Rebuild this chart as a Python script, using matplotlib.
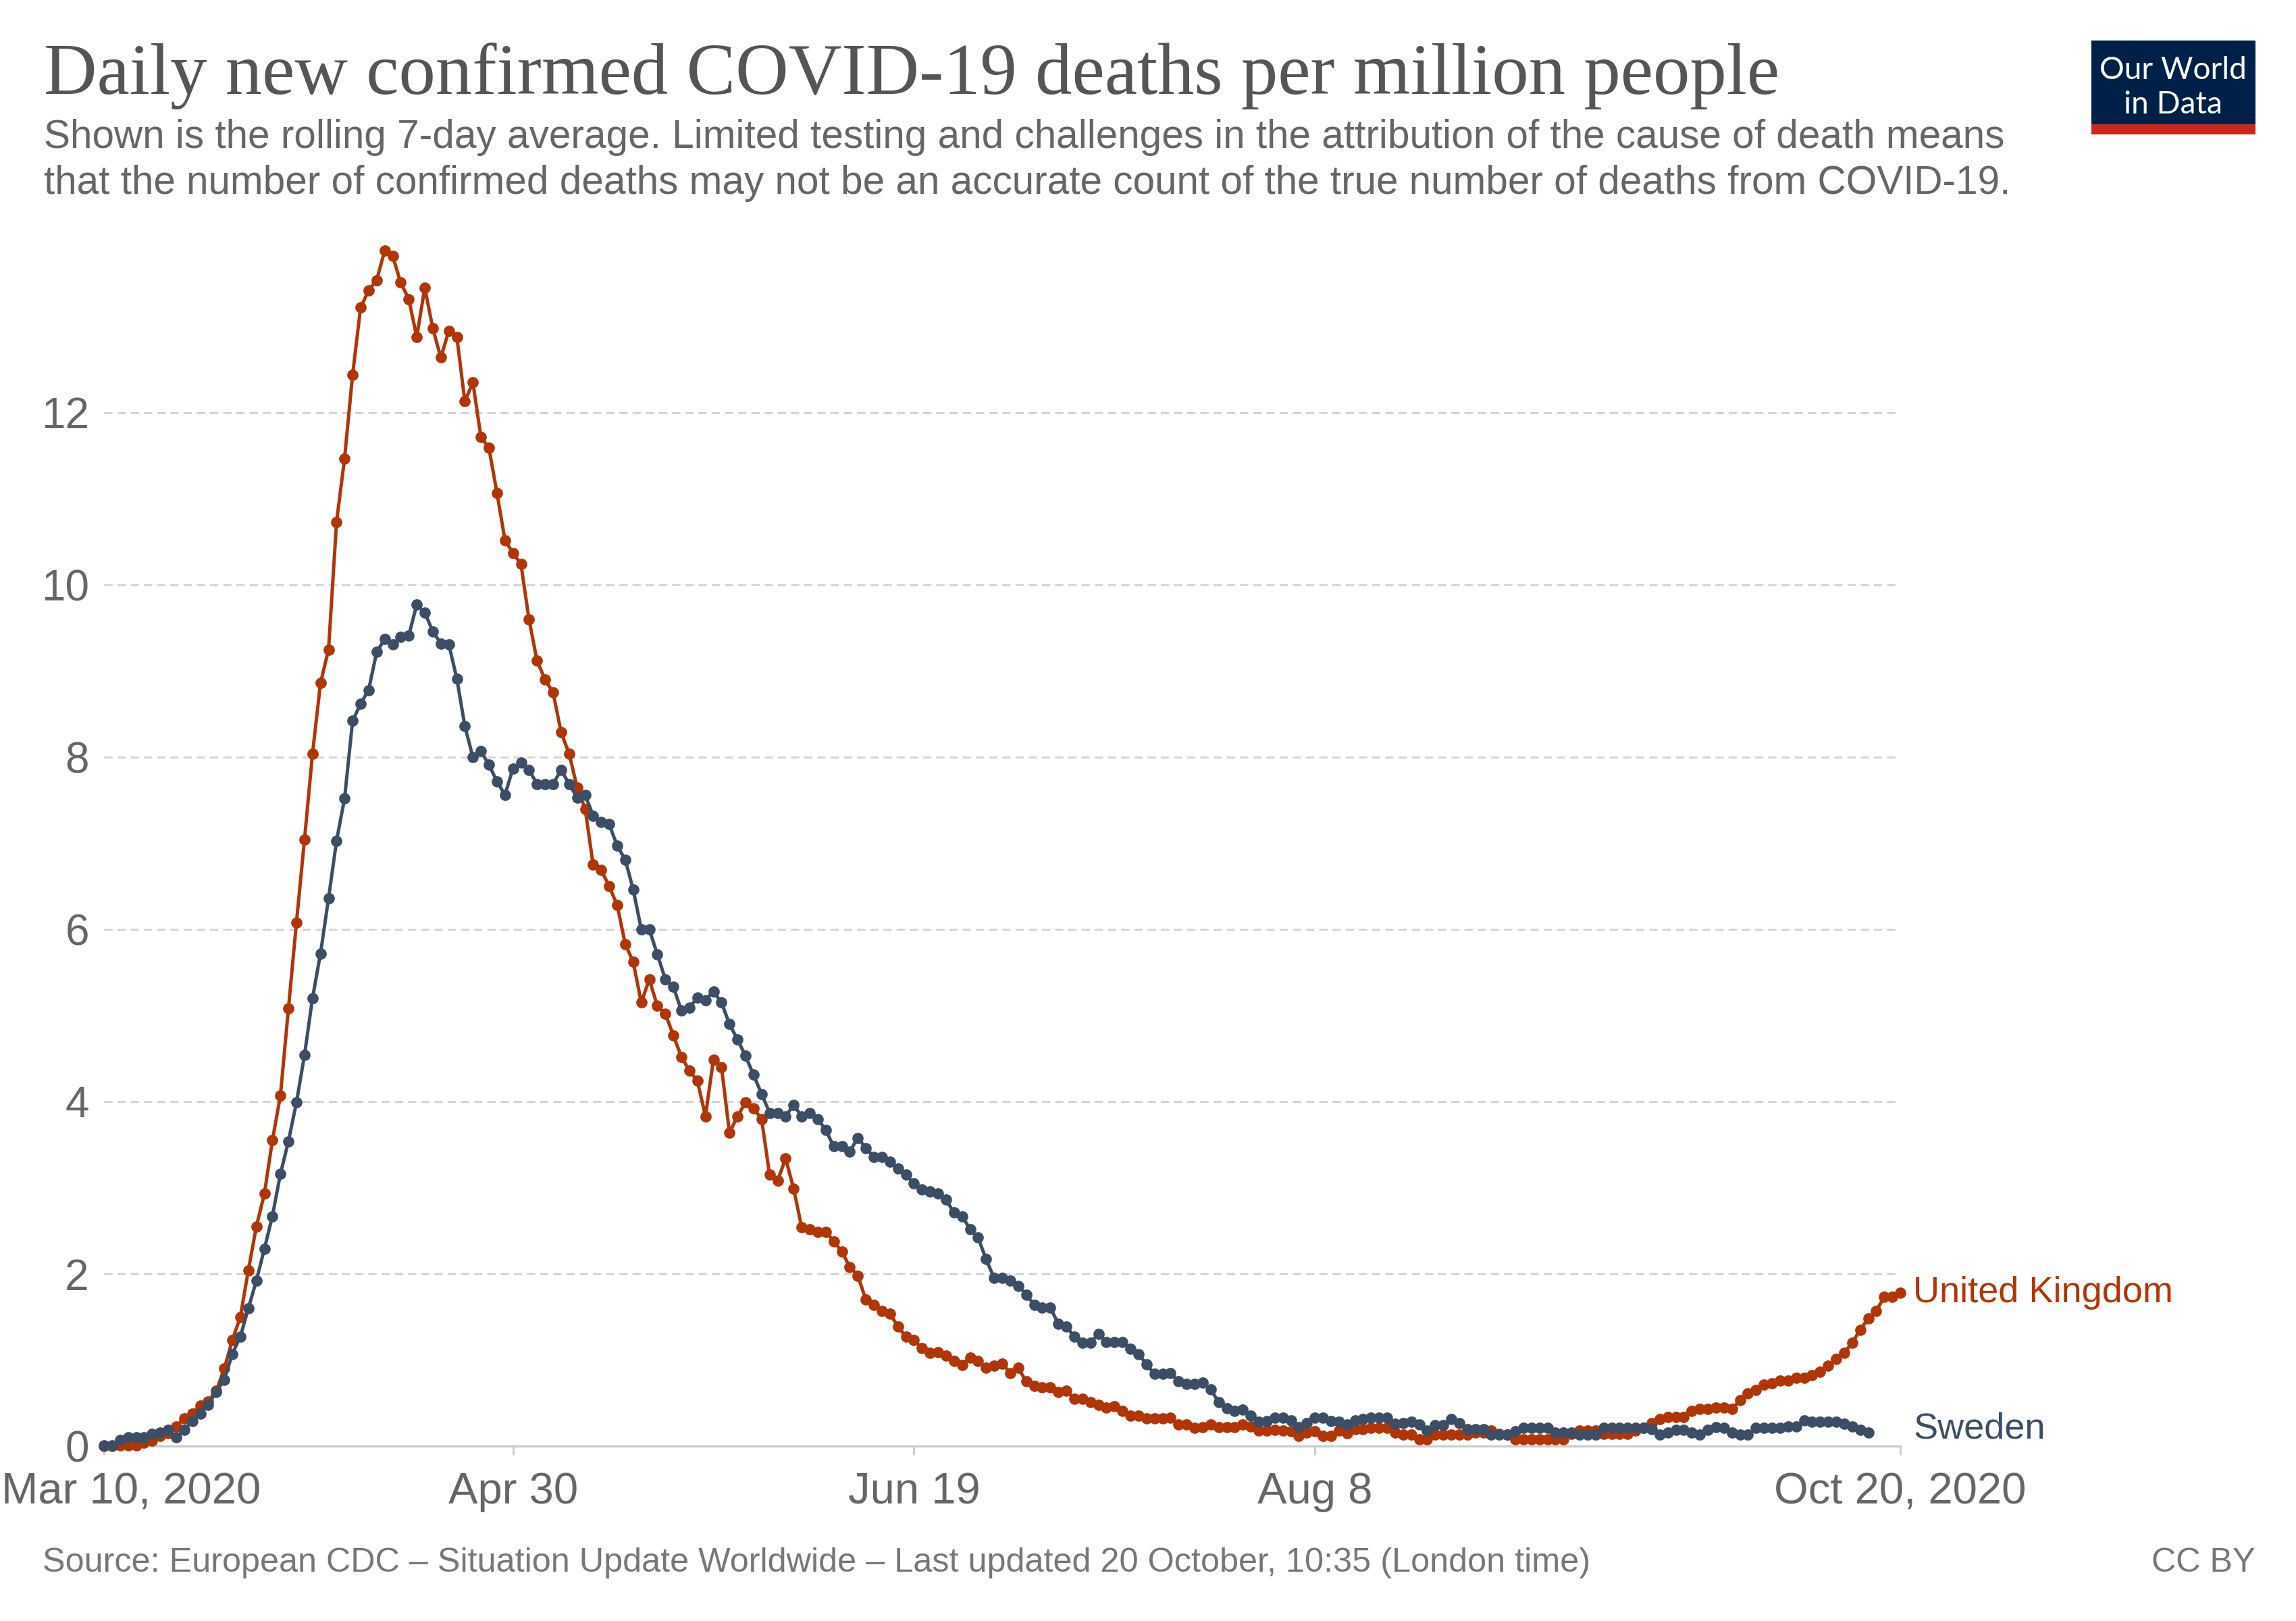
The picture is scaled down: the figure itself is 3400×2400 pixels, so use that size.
import matplotlib
matplotlib.use("Agg")
import matplotlib.pyplot as plt
import matplotlib.dates as mdates
from matplotlib.patches import Rectangle
from matplotlib.transforms import ScaledTranslation
import pandas as pd

# Tägliche bestätigte COVID-19-Tote pro Million (7-Tage-Mittel), ab 10. März 2020
start = "2020-03-10"

uk = [0.0, 0.0, 0.01, 0.01, 0.01, 0.04, 0.06, 0.12, 0.15, 0.23,
      0.32, 0.38, 0.47, 0.52, 0.64, 0.9, 1.23, 1.5, 2.04, 2.55,
      2.93, 3.55, 4.07, 5.08, 6.08, 7.04, 8.04, 8.86, 9.25, 10.73,
      11.47, 12.44, 13.22, 13.42, 13.54, 13.88, 13.82, 13.51, 13.32, 12.88,
      13.45, 12.98, 12.64, 12.95, 12.88, 12.13, 12.35, 11.72, 11.59, 11.07,
      10.52, 10.37, 10.24, 9.6, 9.12, 8.9, 8.75, 8.29, 8.04, 7.65,
      7.4, 6.75, 6.69, 6.5, 6.28, 5.83, 5.62, 5.15, 5.42, 5.11,
      5.02, 4.77, 4.52, 4.36, 4.24, 3.83, 4.49, 4.4, 3.64, 3.83,
      3.99, 3.92, 3.8, 3.15, 3.08, 3.34, 2.99, 2.54, 2.52, 2.49,
      2.49, 2.38, 2.26, 2.08, 1.98, 1.7, 1.64, 1.57, 1.54, 1.39,
      1.27, 1.23, 1.14, 1.08, 1.09, 1.05, 0.99, 0.94, 1.03, 0.99,
      0.91, 0.93, 0.96, 0.85, 0.91, 0.75, 0.7, 0.68, 0.68, 0.63,
      0.64, 0.55, 0.55, 0.51, 0.48, 0.45, 0.46, 0.41, 0.35, 0.35,
      0.32, 0.32, 0.32, 0.33, 0.25, 0.25, 0.21, 0.22, 0.25, 0.22,
      0.22, 0.22, 0.25, 0.23, 0.18, 0.18, 0.19, 0.18, 0.17, 0.12,
      0.16, 0.17, 0.12, 0.12, 0.18, 0.15, 0.2, 0.2, 0.21, 0.21,
      0.21, 0.16, 0.13, 0.13, 0.08, 0.08, 0.13, 0.13, 0.13, 0.13,
      0.13, 0.16, 0.16, 0.18, 0.14, 0.13, 0.08, 0.08, 0.08, 0.08,
      0.08, 0.08, 0.08, 0.14, 0.18, 0.18, 0.18, 0.14, 0.14, 0.14,
      0.14, 0.18, 0.21, 0.27, 0.31, 0.34, 0.34, 0.34, 0.41, 0.43,
      0.43, 0.45, 0.45, 0.43, 0.53, 0.61, 0.65, 0.71, 0.73, 0.76,
      0.76, 0.79, 0.79, 0.82, 0.86, 0.93, 1.01, 1.08, 1.2, 1.35,
      1.48, 1.57, 1.73, 1.73, 1.78]

schweden = [0.01, 0.01, 0.07, 0.1, 0.1, 0.1, 0.14, 0.16, 0.19, 0.1,
            0.19, 0.29, 0.38, 0.48, 0.63, 0.77, 1.07, 1.27, 1.6, 1.92,
            2.29, 2.67, 3.16, 3.54, 3.99, 4.54, 5.2, 5.72, 6.36, 7.03,
            7.52, 8.42, 8.62, 8.78, 9.22, 9.37, 9.31, 9.4, 9.41, 9.77,
            9.68, 9.46, 9.32, 9.31, 8.91, 8.36, 8.0, 8.07, 7.91, 7.72,
            7.56, 7.87, 7.94, 7.85, 7.69, 7.69, 7.69, 7.85, 7.69, 7.53,
            7.56, 7.32, 7.25, 7.22, 6.97, 6.81, 6.46, 6.0, 6.0, 5.71,
            5.42, 5.33, 5.06, 5.09, 5.21, 5.18, 5.28, 5.15, 4.9, 4.72,
            4.53, 4.31, 4.09, 3.87, 3.87, 3.83, 3.96, 3.83, 3.87, 3.8,
            3.67, 3.48, 3.48, 3.42, 3.58, 3.46, 3.36, 3.36, 3.3, 3.22,
            3.15, 3.05, 2.98, 2.96, 2.93, 2.86, 2.71, 2.67, 2.52, 2.42,
            2.17, 1.95, 1.95, 1.92, 1.86, 1.76, 1.64, 1.61, 1.61, 1.42,
            1.39, 1.27, 1.2, 1.2, 1.3, 1.21, 1.21, 1.21, 1.13, 1.07,
            0.95, 0.84, 0.84, 0.85, 0.75, 0.72, 0.72, 0.74, 0.66, 0.51,
            0.44, 0.41, 0.42, 0.35, 0.28, 0.29, 0.33, 0.33, 0.3, 0.22,
            0.27, 0.33, 0.33, 0.29, 0.28, 0.25, 0.3, 0.31, 0.33, 0.33,
            0.33, 0.26, 0.27, 0.28, 0.25, 0.18, 0.24, 0.24, 0.31, 0.27,
            0.2, 0.2, 0.2, 0.13, 0.13, 0.13, 0.17, 0.21, 0.21, 0.21,
            0.21, 0.16, 0.16, 0.16, 0.13, 0.13, 0.13, 0.21, 0.21, 0.21,
            0.21, 0.21, 0.21, 0.2, 0.13, 0.16, 0.19, 0.19, 0.16, 0.13,
            0.19, 0.22, 0.21, 0.16, 0.13, 0.13, 0.21, 0.21, 0.21, 0.21,
            0.23, 0.23, 0.3, 0.28, 0.28, 0.28, 0.28, 0.26, 0.23, 0.19,
            0.16]

tick_daten = ["2020-03-10", "2020-04-30", "2020-06-19", "2020-08-08", "2020-10-20"]
tick_texte = ["Mar 10, 2020", "Apr 30", "Jun 19", "Aug 8", "Oct 20, 2020"]
y_ticks = [0, 2, 4, 6, 8, 10, 12]

ROT = "#b13507"
BLAU = "#3c4e66"
GRAU = "#666666"

plt.rcParams["font.family"] = ["Liberation Sans", "DejaVu Sans"]

W, H = 3400, 2400
fig = plt.figure(figsize=(17, 12), dpi=200)
renderer = fig.canvas.get_renderer()


def px(x):
    return x / W


def py(y):
    return 1 - y / H


def breite_anpassen(t, ziel):
    w = t.get_window_extent(renderer).width
    t.set_fontsize(t.get_fontsize() * ziel / w)


ax = fig.add_axes([px(154), py(2141), px(2814) - px(154), 14 * 127.5 / H])

d_uk = pd.date_range(start, periods=len(uk))
d_se = pd.date_range(start, periods=len(schweden))

ax.plot(d_uk, uk, color=ROT, lw=1.8, marker="o", ms=5, clip_on=False, zorder=3)
ax.plot(d_se, schweden, color=BLAU, lw=1.8, marker="o", ms=5, clip_on=False, zorder=4)

ax.set_xlim(mdates.date2num(pd.Timestamp(tick_daten[0])), mdates.date2num(pd.Timestamp(tick_daten[-1])))
ax.set_ylim(0, 14)

for s in ["top", "right", "left"]:
    ax.spines[s].set_visible(False)
ax.spines["bottom"].set_color("#cccccc")
ax.spines["bottom"].set_linewidth(1.2)

ax.set_yticks(y_ticks)
ax.set_yticklabels([str(v) for v in y_ticks])
ax.tick_params(axis="y", length=0, pad=8, labelsize=23, labelcolor=GRAU)
ax.yaxis.grid(True, color="#d5d5d5", lw=1.1, linestyle=(0, (4, 2.4)))
ax.set_axisbelow(True)

ax.set_xticks(pd.to_datetime(tick_daten))
ax.set_xticklabels(tick_texte)
ax.tick_params(axis="x", length=4.7, width=1.1, color="#cccccc", pad=9, labelsize=23.5, labelcolor=GRAU)
erstes = ax.get_xticklabels()[0]
erstes.set_ha("left")
erstes.set_transform(erstes.get_transform() + ScaledTranslation(-152 / 200, 0, fig.dpi_scale_trans))

# Beschriftung am Linienende
x_ende = ax.get_xlim()[1]
ax.annotate("United Kingdom", xy=(x_ende, uk[-1]), xytext=(7, 0), textcoords="offset points",
            va="center", ha="left", color=ROT, fontsize=19.5, annotation_clip=False)
ax.annotate("Sweden", xy=(x_ende, schweden[-1]), xytext=(7, 2), textcoords="offset points",
            va="center", ha="left", color=BLAU, fontsize=19.5, annotation_clip=False)

# Titel und Untertitel
titel = fig.text(px(65), py(139), "Daily new confirmed COVID-19 deaths per million people",
                 family=["Liberation Serif", "DejaVu Serif"], color="#555555", fontsize=36, va="baseline")
breite_anpassen(titel, 2571)

zeile1 = fig.text(px(65), py(219), "Shown is the rolling 7-day average. Limited testing and challenges in the "
                  "attribution of the cause of death means", color=GRAU, fontsize=19, va="baseline")
breite_anpassen(zeile1, 2902)
fig.text(px(65), py(287), "that the number of confirmed deaths may not be an accurate count of the true "
         "number of deaths from COVID-19.", color=GRAU, fontsize=zeile1.get_fontsize(), va="baseline")

quelle = fig.text(px(63), py(2327), "Source: European CDC \u2013 Situation Update Worldwide \u2013 "
                  "Last updated 20 October, 10:35 (London time)", color="#777777", fontsize=18, va="baseline")
breite_anpassen(quelle, 2298)
fig.text(px(3340), py(2327), "CC BY", color="#777777", fontsize=quelle.get_fontsize(), va="baseline", ha="right")

# Logo
fig.patches.append(Rectangle((px(3097), py(184)), px(243), 124 / H, transform=fig.transFigure,
                             facecolor="#002147", edgecolor="none"))
fig.patches.append(Rectangle((px(3097), py(199)), px(243), 15 / H, transform=fig.transFigure,
                             facecolor="#ce261e", edgecolor="none"))
logo1 = fig.text(px(3218), py(117), "Our World", family=["Lato", "DejaVu Sans"], color="white",
                 fontsize=18, ha="center", va="baseline")
breite_anpassen(logo1, 218)
fig.text(px(3218), py(168), "in Data", family=["Lato", "DejaVu Sans"], color="white",
         fontsize=logo1.get_fontsize(), ha="center", va="baseline")

fig.savefig("out.png", dpi=200, facecolor="white")
